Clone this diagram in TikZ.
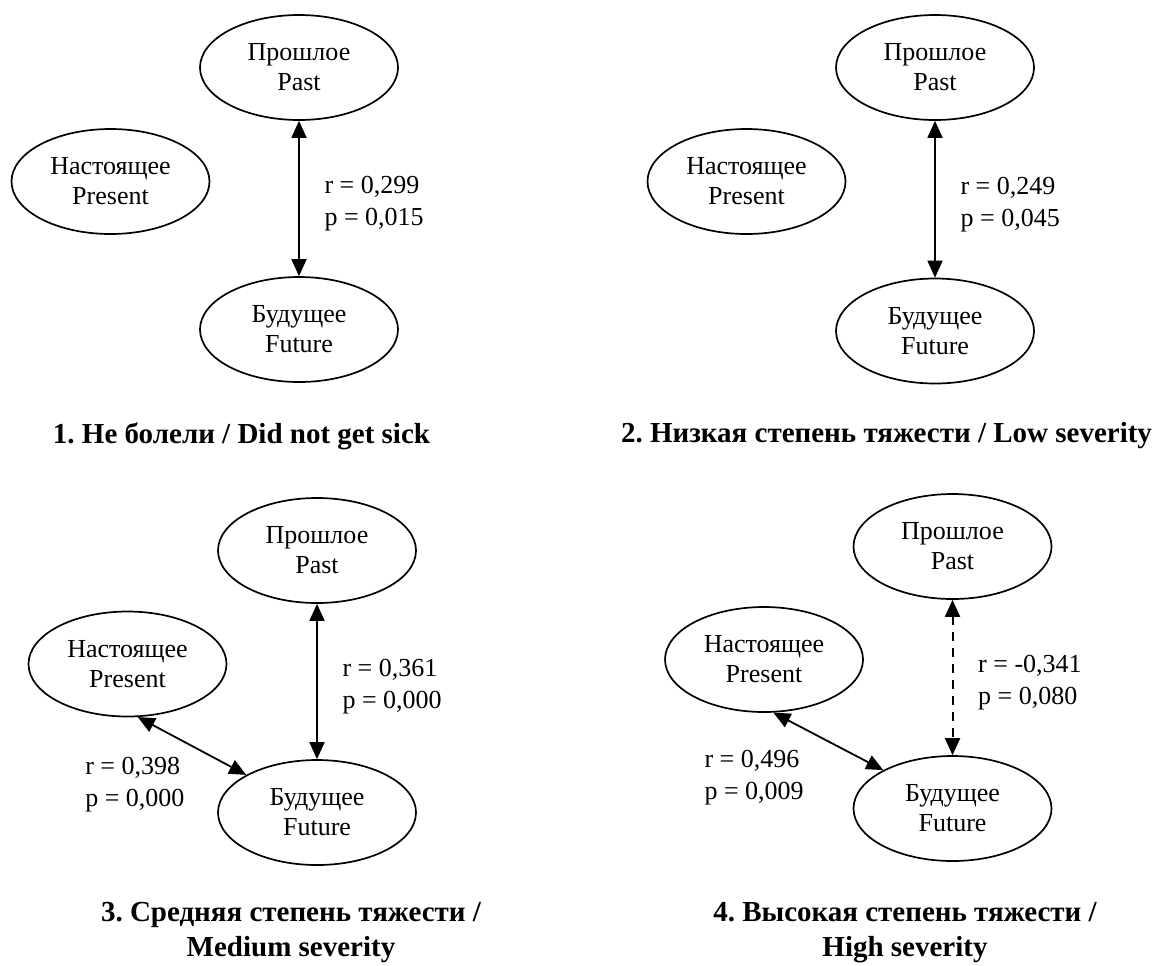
\documentclass[tikz,border=0pt]{standalone}
\usepackage{fontspec}
\setmainfont{Liberation Serif}
\usetikzlibrary{positioning, arrows.meta, shapes.geometric}
\frenchspacing

\begin{document}
\begin{tikzpicture}[
		x=0.5pt, y=-0.5pt,
		font=\fontsize{13}{15}\selectfont,
		main/.style = {draw, ellipse, line width=0.85pt, minimum width=99pt, minimum height=52.5pt, inner sep=0pt, align=center},
		link/.style = {{Triangle[length=8.5pt,width=7.5pt]}-{Triangle[length=8.5pt,width=7.5pt]}, line width=0.9pt},
		weak/.style = {link, line width=1pt, dash pattern=on 4.5pt off 3.5pt},
		stat/.style = {align=left, font=\fontsize{13}{16}\selectfont},
		caption/.style = {anchor=north, inner sep=0pt, align=center, font=\fontsize{14.5}{17.5}\selectfont\bfseries}
	]
		\useasboundingbox (0,0) rectangle (1159,965);

		% 1
		\node[main] (past1) at (299,67.5) {Прошлое\\Past};
		\node[main] (pres1) at (110.5,181.5) {Настоящее\\Present};
		\node[main] (fut1) at (299,329.5) {Будущее\\Future};
		\draw[link] (past1) -- node[stat, right=9pt, yshift=-2.5pt] {r = 0,299\\p = 0,015} (fut1);
		\node[caption] (cap1) at (241.5,422) {1. Не болели / Did not get sick};

		% 2
		\node[main] (past2) at (935,67.5) {Прошлое\\Past};
		\node[main] (pres2) at (746.5,181.5) {Настоящее\\Present};
		\node[main] (fut2) at (935,331) {Будущее\\Future};
		\draw[link] (past2) -- node[stat, right=9pt, yshift=-2.5pt] {r = 0,249\\p = 0,045} (fut2);
		\node[caption] (cap2) at (886.5,422) {2. Низкая степень тяжести / Low severity};

		% 3
		\node[main] (past3) at (317,550.5) {Прошлое\\Past};
		\node[main] (pres3) at (127.5,664) {Настоящее\\Present};
		\node[main] (fut3) at (317,812.5) {Будущее\\Future};
		\draw[link] (past3) -- node[stat, right=9pt, yshift=-2.5pt] {r = 0,361\\p = 0,000} (fut3);
		\draw[link] (pres3.-79) -- node[stat, below left=2pt and 0pt] {r = 0,398\\p = 0,000} (fut3.152);
		\node[caption] (cap3) at (291,902) {3. Средняя степень тяжести /\\Medium severity};

		% 4
		\node[main] (past4) at (952.5,546.5) {Прошлое\\Past};
		\node[main] (pres4) at (764,659.5) {Настоящее\\Present};
		\node[main] (fut4) at (952.5,808.5) {Будущее\\Future};
		\draw[weak] (past4) -- node[stat, right=9pt, yshift=-2.5pt] {r = -0,341\\p = 0,080} (fut4);
		\draw[link] (pres4.-80) -- node[stat, below left=0.5pt and 8.5pt] {r = 0,496\\p = 0,009} (fut4.151);
		\node[caption] (cap4) at (905,902) {4. Высокая степень тяжести /\\High severity};
	\end{tikzpicture}
\end{document}
